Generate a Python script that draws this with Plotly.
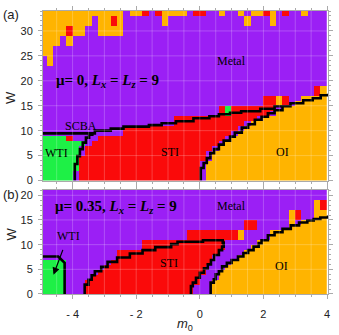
import plotly.graph_objects as go
from plotly.subplots import make_subplots

# phase colours
PHASE_COLORS = {"M": "#9b1ff5", "S": "#fa0a0a", "O": "#ffb400", "W": "#1ef046"}
CODES = {"M": 0, "S": 1, "O": 2, "W": 3}

# cells: m0 from -5 to 4 in steps of 0.2 (45 columns), W in steps of 1
# each row is run-length coded from left to right, first row is W = 0..1
rows_a = [
    "5W 1M 19S 1M 19O",
    "5W 1M 19S 1M 19O",
    "6W 19S 1M 19O",
    "6W 19S 1M 19O",
    "6W 20S 1M 18O",
    "6W 1M 19S 1M 18O",
    "6W 1M 20S 1M 17O",
    "7W 1M 20S 1M 16O",
    "4W 1S 4M 20S 1M 15O",
    "13M 17S 1M 14O",
    "13M 18S 1M 13O",
    "21M 11S 1M 12O",
    "21M 13S 1M 10O",
    "28M 1S 1W 6S 1M 8O",
    "28M 1S 1W 7S 1M 7O",
    "35M 2S 1O 1S 1M 5O",
    "35M 2S 1O 1S 2M 4O",
    "43M 1S 1O",
    "43M 1S 1O",
    "45M",
    "45M",
    "45M",
    "45M",
    "1M 1O 43M",
    "1M 1O 43M",
    "2O 43M",
    "2O 43M",
    "3O 1M 1O 40M",
    "3O 1M 1O 40M",
    "4O 1S 2O 2M 4O 32M",
    "4O 1S 2O 2M 4O 32M",
    "8O 1M 2O 1S 1O 6M 1O 12M 1O 3M 1O 8M",
    "8O 1M 2O 1S 1O 6M 1O 12M 1O 3M 1O 8M",
    "13O 1M 2O 1S 1M 1S 4O 1M 2S 2M 1O 2M 1O 1M 2O 1S 1O 1M 1S 2M 1O 3M",
]

rows_b = [
    "4W 3M 17S 3M 18O",
    "4W 3M 17S 3M 18O",
    "4W 3M 18S 2M 18O",
    "4W 4M 17S 3M 17O",
    "4W 5M 17S 2M 17O",
    "4W 6M 16S 3M 16O",
    "4W 7M 16S 3M 15O",
    "12M 15S 4M 14O",
    "12M 16S 4M 13O",
    "16M 13S 4M 12O",
    "16M 13S 5M 11O",
    "23M 8S 1O 4M 9O",
    "23M 8S 1O 4M 9O",
    "32M 2S 5M 6O",
    "32M 2S 5M 1O 1M 4O",
    "39M 1O 1S 2M 2O",
    "39M 1O 1S 2M 2O",
    "43M 1O 1S",
    "43M 1O 1S",
    "45M",
    "45M",
    "45M",
]

# SCBA phase boundaries, panel (a)
scba_a_m0 = [-4.93, -3.3, -2.8, -2.4, -1.6, -1.2, -0.75, -0.2, 0.3, 0.6, 0.95, 1.3, 1.9, 2.35, 2.85, 3.25, 3.55, 3.8, 4.03]
scba_a_w = [9.45, 10.0, 10.4, 10.8, 11.1, 11.5, 11.9, 12.5, 12.9, 13.3, 13.6, 13.9, 14.4, 14.9, 15.5, 16.1, 16.5, 17.1, 17.4]
wti_a_m0 = [-3.93, -3.93, -3.85, -3.77, -3.68, -3.58, -3.48, -3.38]
wti_a_w = [0, 3.3, 4.9, 6.3, 7.6, 8.6, 9.2, 9.45]
oi_a_m0 = [0.03, 0.03, 0.12, 0.22, 0.33, 0.45, 0.6, 0.75, 0.95, 1.1, 1.32, 1.52, 1.73, 1.94, 2.14, 2.35, 2.6]
oi_a_w = [0, 2.5, 3.5, 4.5, 5.5, 6.3, 7.2, 8.0, 8.8, 9.6, 10.6, 11.3, 12.2, 12.8, 13.5, 14.1, 14.9]

# panel (b)
wti_b_m0 = [-4.93, -4.45, -4.25, -4.25]
wti_b_w = [7.6, 7.6, 6.3, 0]
sti_b_m0 = [-3.62, -3.62, -3.5, -3.4, -3.3, -3.1, -2.9, -2.6, -2.2, -1.8, -1.4, -0.9, -0.7, 0.1, 0.55,
            0.72, 0.75, 0.7, 0.6, 0.45, 0.35, 0.25, 0.13, 0.0, -0.12, -0.22, -0.28]
sti_b_w = [0, 1.9, 2.9, 3.8, 4.6, 5.5, 6.5, 7.4, 8.2, 8.9, 9.5, 10.1, 10.6, 10.9, 10.9,
           10.4, 9.6, 8.9, 7.9, 6.9, 6.0, 5.2, 4.3, 3.3, 2.3, 1.6, 0]
oi_b_m0 = [0.34, 0.34, 0.44, 0.5, 0.6, 0.7, 0.85, 1.0, 1.2, 1.37, 1.52, 1.69, 1.85, 1.94, 2.14, 2.35,
           2.6, 2.86, 3.12, 3.38, 3.58, 3.79, 4.03]
oi_b_w = [0, 2.3, 3.0, 4.0, 4.6, 5.6, 6.3, 6.9, 7.6, 8.3, 8.9, 9.6, 10.3, 10.9, 11.9, 12.5,
          13.2, 13.9, 14.5, 14.9, 15.2, 15.5, 15.9]


def decode(rows):
    grid = []
    for row in rows:
        cells = []
        for tok in row.split():
            cells += [CODES[tok[-1]]] * int(tok[:-1])
        grid.append(cells)
    return grid


cs = [[0, PHASE_COLORS["M"]], [0.1667, PHASE_COLORS["M"]],
      [0.1667, PHASE_COLORS["S"]], [0.5, PHASE_COLORS["S"]],
      [0.5, PHASE_COLORS["O"]], [0.8333, PHASE_COLORS["O"]],
      [0.8333, PHASE_COLORS["W"]], [1, PHASE_COLORS["W"]]]

fig = make_subplots(rows=2, cols=1)

for r, rows in [(1, rows_a), (2, rows_b)]:
    fig.add_trace(go.Heatmap(z=decode(rows), x0=-4.9, dx=0.2, y0=0.5, dy=1,
                             zmin=0, zmax=3, colorscale=cs, showscale=False,
                             hoverinfo="skip"), row=r, col=1)

lines = [(1, scba_a_m0, scba_a_w), (1, wti_a_m0, wti_a_w), (1, oi_a_m0, oi_a_w),
         (2, wti_b_m0, wti_b_w), (2, sti_b_m0, sti_b_w), (2, oi_b_m0, oi_b_w)]
for r, xs, ys in lines:
    shape = "linear" if xs is wti_b_m0 else "hv"
    fig.add_trace(go.Scatter(x=xs, y=ys, mode="lines",
                             line=dict(color="black", width=2.6, shape=shape),
                             showlegend=False, hoverinfo="skip"), row=r, col=1)

frame = "#aaaaaa"
tickfont = dict(family="Liberation Sans", size=11, color="#222")
axis_style = dict(showline=True, linecolor=frame, linewidth=1, mirror="allticks",
                  ticks="outside", ticklen=4, tickcolor=frame, showgrid=False,
                  zeroline=False, tickfont=tickfont, ticklabeloverflow="allow")

fig.update_xaxes(**axis_style, range=[-4.93, 4.03], tickvals=[-4, -2, 0, 2, 4],
                 ticklabelstandoff=6,
                 minor=dict(dtick=0.5, tick0=0, ticklen=2, tickcolor=frame, ticks="outside"))
fig.update_xaxes(showticklabels=False, row=1, col=1)
fig.update_xaxes(ticktext=["- 4", "- 2", "0", "2", "4"], row=2, col=1)
fig.update_yaxes(**axis_style, ticklabelstandoff=3,
                 minor=dict(dtick=1, tick0=0, ticklen=2, tickcolor=frame, ticks="outside"))
fig.update_yaxes(range=[0, 34], tickvals=[0, 5, 10, 15, 20, 25, 30], row=1, col=1)
fig.update_yaxes(range=[0, 21.1], tickvals=[0, 5, 10, 15, 20], row=2, col=1)

fig.update_layout(
    width=339, height=335, margin=dict(l=43, r=6, t=6, b=41),
    plot_bgcolor="white", paper_bgcolor="white", showlegend=False,
    xaxis=dict(domain=[0, 1]), xaxis2=dict(domain=[0, 1]),
    yaxis=dict(domain=[0.401, 1]), yaxis2=dict(domain=[0, 0.368]),
)

# faint grid drawn on top of the cells
grid_x = [-4.5, -4, -3.5, -3, -2.5, -2, -1.5, -1, -0.5, 0, 0.5, 1, 1.5, 2, 2.5, 3, 3.5]
for xr, yr, ys in [("x", "y", [5, 10, 15, 20, 25, 30]), ("x2", "y2", [5, 10, 15, 20])]:
    for v in grid_x:
        fig.add_shape(type="line", xref=xr, yref=yr + " domain", x0=v, x1=v, y0=0, y1=1,
                      layer="above", line=dict(color="rgba(255,255,255,0.22)", width=1))
    for v in ys:
        fig.add_shape(type="line", xref=xr + " domain", yref=yr, x0=0, x1=1, y0=v, y1=v,
                      layer="above", line=dict(color="rgba(255,255,255,0.22)", width=1))

serif = "Liberation Serif"
labels = [
    ("x", "y", -2.9, 20.0, "<b>μ= 0, <i>L<sub>x</sub></i> = <i>L<sub>z</sub></i> = 9</b>", 15),
    ("x", "y", 1.0, 24.0, "Metal", 12),
    ("x", "y", -3.75, 10.9, "SCBA", 12),
    ("x", "y", -4.5, 5.6, "WTI", 12),
    ("x", "y", -0.94, 5.8, "STI", 12),
    ("x", "y", 2.6, 5.8, "OI", 12),
    ("x2", "y2", -2.65, 17.6, "<b>μ= 0.35, <i>L<sub>x</sub></i> = <i>L<sub>z</sub></i> = 9</b>", 15),
    ("x2", "y2", 1.0, 17.8, "Metal", 12),
    ("x2", "y2", -0.97, 6.25, "STI", 12),
    ("x2", "y2", 2.58, 5.75, "OI", 12),
]
for xr, yr, x, y, t, s in labels:
    fig.add_annotation(xref=xr, yref=yr, x=x, y=y, text=t, showarrow=False,
                       font=dict(family=serif, size=s, color="black"))

# WTI label with arrow in panel (b)
fig.add_annotation(xref="x2", yref="y2", x=-4.6, y=3.9, ax=-4.14, ay=11.8,
                   axref="x2", ayref="y2", text="WTI", showarrow=True,
                   arrowhead=2, arrowsize=1.2, arrowwidth=1.2, arrowcolor="black",
                   standoff=0, startstandoff=6,
                   font=dict(family=serif, size=12, color="black"))

sans = "Liberation Sans"
paper_texts = [
    (-0.148, 0.986, "(a)", 0, "left"),
    (-0.148, 0.351, "(b)", 0, "left"),
    (-0.114, 0.694, "W", -90, "center"),
    (-0.114, 0.212, "W", -90, "center"),
    (0.497, -0.108, "<i>m</i><sub>0</sub>", 0, "center"),
]
for x, y, t, ang, xa in paper_texts:
    fig.add_annotation(xref="paper", yref="paper", x=x, y=y, text=t, textangle=ang,
                       xanchor=xa, yanchor="middle", showarrow=False,
                       font=dict(family=sans, size=13, color="#222"))

fig.write_html("out.html", config={"displayModeBar": False},
               post_script="document.body.style.margin = '0';")
